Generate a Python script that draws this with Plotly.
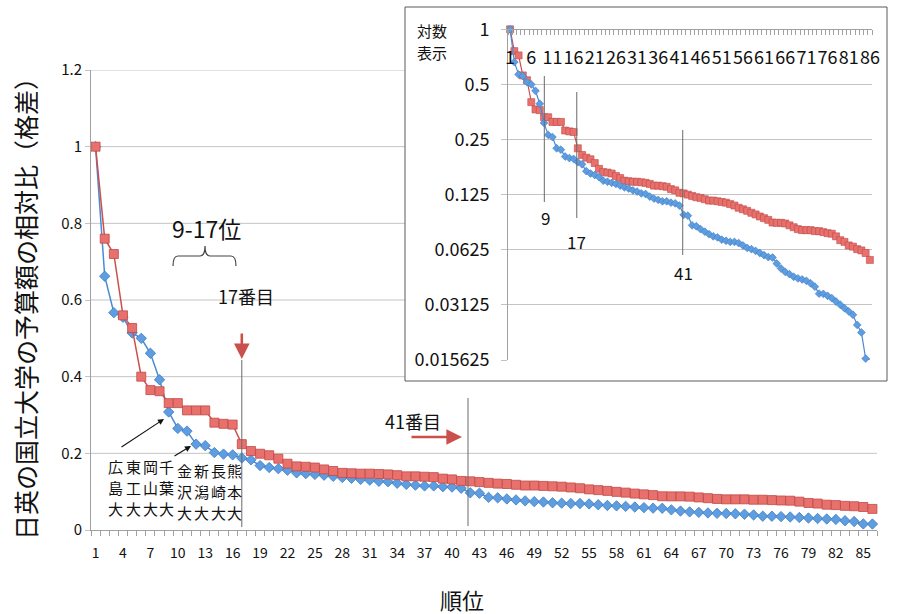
import plotly.graph_objects as go

# ---------------- data ----------------
ranks = list(range(1, 87))

red_values = [
    1.0, 0.76, 0.72, 0.56, 0.527, 0.40, 0.365, 0.362, 0.331, 0.331,
    0.312, 0.312, 0.312, 0.280, 0.277, 0.275, 0.224, 0.206, 0.199, 0.195,
    0.186, 0.173, 0.166, 0.165, 0.163, 0.158, 0.154, 0.149, 0.148, 0.147,
    0.147, 0.146, 0.145, 0.143, 0.140, 0.140, 0.139, 0.138, 0.134, 0.132,
    0.128, 0.127, 0.125, 0.123, 0.121, 0.120, 0.118, 0.116, 0.116, 0.115,
    0.114, 0.113, 0.111, 0.109, 0.106, 0.104, 0.102, 0.0995, 0.0975, 0.095,
    0.093, 0.091, 0.088, 0.0877, 0.0877, 0.087, 0.085, 0.083, 0.081, 0.080,
    0.080, 0.080, 0.079, 0.079, 0.078, 0.077, 0.0765, 0.074, 0.0705, 0.069,
    0.066, 0.065, 0.063, 0.062, 0.060, 0.055,
]

blue_values = [
    1.0, 0.662, 0.567, 0.555, 0.514, 0.500, 0.461, 0.392, 0.308, 0.265,
    0.258, 0.224, 0.220, 0.202, 0.198, 0.196, 0.188, 0.183, 0.168, 0.163,
    0.160, 0.156, 0.149, 0.147, 0.145, 0.143, 0.140, 0.137, 0.135, 0.132,
    0.130, 0.127, 0.126, 0.122, 0.119, 0.117, 0.115, 0.115, 0.113, 0.112,
    0.109, 0.097, 0.096, 0.085, 0.084, 0.081, 0.0785, 0.076, 0.074, 0.073,
    0.071, 0.070, 0.069, 0.069, 0.068, 0.066, 0.064, 0.063, 0.0616, 0.060,
    0.0584, 0.057, 0.0567, 0.0526, 0.0494, 0.0473, 0.046, 0.0445, 0.0436, 0.043,
    0.0423, 0.041, 0.0393, 0.036, 0.0359, 0.035, 0.034, 0.0326, 0.0313, 0.030,
    0.0288, 0.0276, 0.0243, 0.0221, 0.0159, 0.0156,
]

main_y_ticks = [0, 0.2, 0.4, 0.6, 0.8, 1.0, 1.2]
main_y_ticktext = ["0", "0.2", "0.4", "0.6", "0.8", "1", "1.2"]
log_ticks = [1, 0.5, 0.25, 0.125, 0.0625, 0.03125, 0.015625]
log_ticktext = ["1", "0.5", "0.25", "0.125", "0.0625", "0.03125", "0.015625"]

universities = ["広島大", "東工大", "岡山大", "千葉大", "金沢大", "新潟大", "長崎大", "熊本大"]

y_title = "日英の国立大学の予算額の相対比（格差）"
x_title = "順位"

# ---------------- layout helpers ----------------
W, H = 904, 614
ML, MR, MT, MB = 91, 27, 3, 84
PW = W - ML - MR
PH = H - MT - MB
BASE = H - MB


def fx(p):
    return (p - ML) / PW


def fy(p):
    return (BASE - p) / PH


FONT = "Noto Sans CJK JP, Noto Sans, sans-serif"
RED_LINE = "#c9504c"
RED_FILL = "#e8716d"
BLUE_LINE = "#4a8ad4"
BLUE_FILL = "#5d9de0"
GRID = "#c4c4c4"
AXIS = "#a0a0a0"

fig = go.Figure()

# main chart
fig.add_trace(go.Scatter(
    x=ranks, y=blue_values, mode="lines+markers", xaxis="x", yaxis="y",
    line=dict(color=BLUE_LINE, width=1.5),
    marker=dict(symbol="diamond", size=8, color=BLUE_FILL, line=dict(color="#3f7cc2", width=0.8)),
    showlegend=False, cliponaxis=False,
))
fig.add_trace(go.Scatter(
    x=ranks, y=red_values, mode="lines+markers", xaxis="x", yaxis="y",
    line=dict(color=RED_LINE, width=1.5),
    marker=dict(symbol="square", size=9, color=RED_FILL, line=dict(color="#c04a47", width=0.8)),
    showlegend=False, cliponaxis=False,
))

# inset (log)
fig.add_trace(go.Scatter(
    x=ranks, y=red_values, mode="lines+markers", xaxis="x2", yaxis="y2",
    line=dict(color=RED_LINE, width=1.2),
    marker=dict(symbol="square", size=7, color=RED_FILL, line=dict(color="#c04a47", width=0.6)),
    showlegend=False, cliponaxis=False,
))
fig.add_trace(go.Scatter(
    x=ranks, y=blue_values, mode="lines+markers", xaxis="x2", yaxis="y2",
    line=dict(color=BLUE_LINE, width=1.2),
    marker=dict(symbol="diamond", size=6, color=BLUE_FILL, line=dict(color="#3f7cc2", width=0.6)),
    showlegend=False, cliponaxis=False,
))

shapes = []
# main gridlines (drawn as shapes so that the inset box hides them)
for v in main_y_ticks[1:]:
    shapes.append(dict(type="line", xref="paper", yref="y", x0=0, x1=1, y0=v, y1=v,
                       line=dict(color=GRID, width=1), layer="below"))
# inset box
shapes.append(dict(type="rect", xref="paper", yref="paper",
                   x0=fx(405), x1=fx(887), y0=fy(381), y1=fy(7),
                   fillcolor="white", line=dict(color="#5a5a5a", width=1), layer="below"))
# main marker lines
shapes.append(dict(type="line", xref="x", yref="paper", x0=17, x1=17, y0=fy(527), y1=fy(360),
                   line=dict(color="#6a6a6a", width=1)))
shapes.append(dict(type="line", xref="x", yref="paper", x0=41.75, x1=41.75, y0=fy(526), y1=fy(398),
                   line=dict(color="#6a6a6a", width=1)))
# inset marker lines
shapes.append(dict(type="line", xref="x2", yref="paper", x0=9.08, x1=9.08, y0=fy(202), y1=fy(76),
                   line=dict(color="#6a6a6a", width=1)))
shapes.append(dict(type="line", xref="x2", yref="paper", x0=16.75, x1=16.75, y0=fy(218), y1=fy(92),
                   line=dict(color="#6a6a6a", width=1)))
shapes.append(dict(type="line", xref="x2", yref="paper", x0=41.78, x1=41.78, y0=fy(255), y1=fy(130),
                   line=dict(color="#6a6a6a", width=1)))

# curly brace over 9-17
bx0, bx1, bxc = 173, 236, 205
by_end, by_mid, by_peak = 266, 256, 246
pts = [
    ("M", bx0, by_end), ("Q", bx0, by_mid, bx0 + 5, by_mid), ("L", bxc - 5, by_mid),
    ("Q", bxc, by_mid, bxc, by_peak), ("Q", bxc, by_mid, bxc + 5, by_mid),
    ("L", bx1 - 5, by_mid), ("Q", bx1, by_mid, bx1, by_end),
]
path = ""
for p in pts:
    cmd = p[0]
    coords = p[1:]
    pairs = []
    for i in range(0, len(coords), 2):
        pairs.append(f"{fx(coords[i]):.5f},{fy(coords[i+1]):.5f}")
    path += cmd + " " + " ".join(pairs) + " "
shapes.append(dict(type="path", xref="paper", yref="paper", path=path.strip(),
                   line=dict(color="#444444", width=1.2)))

annotations = []


def text_ann(txt, x, y, size, color="#111111", **kw):
    d = dict(text=txt, x=fx(x), y=fy(y), xref="paper", yref="paper", showarrow=False,
             font=dict(family=FONT, size=size, color=color), xanchor="center", yanchor="middle")
    d.update(kw)
    annotations.append(d)


text_ann("9-17位", 206, 228, 23)
text_ann("17番目", 246, 296, 18)
text_ann("41番目", 413, 421, 18)
text_ann("対数", 432, 30, 15)
text_ann("表示", 432, 52, 15)
text_ann("9", 545, 217, 17)
text_ann("17", 576, 241, 17)
text_ann("41", 683, 272, 17)
text_ann(y_title, 25, 303, 25, textangle=-90)
text_ann(x_title, 462, 599, 22)

# university labels, vertical stacks
col_x = [115, 133, 150, 166, 184, 201, 218, 234]
col_top = [466, 466, 466, 466, 470, 470, 470, 470]
for name, cx, ct in zip(universities, col_x, col_top):
    for k, ch in enumerate(name):
        text_ann(ch, cx, ct + 21 * k, 15)

# arrows
annotations.append(dict(text="", x=17, y=fy(359), xref="x", yref="paper", showarrow=True,
                        ax=0, ay=-27, arrowhead=2, arrowsize=1.2, arrowwidth=2.6, arrowcolor=RED_LINE))
annotations.append(dict(text="", x=fx(462), y=fy(437), xref="paper", yref="paper", showarrow=True,
                        ax=-52, ay=0, arrowhead=2, arrowsize=1.2, arrowwidth=2.6, arrowcolor=RED_LINE))
annotations.append(dict(text="", x=fx(164), y=fy(419), xref="paper", yref="paper", showarrow=True,
                        ax=-44, ay=29, arrowhead=2, arrowsize=1.1, arrowwidth=1.1, arrowcolor="#111111"))
annotations.append(dict(text="", x=fx(191), y=fy(446), xref="paper", yref="paper", showarrow=True,
                        ax=-18, ay=11, arrowhead=2, arrowsize=1.1, arrowwidth=1.1, arrowcolor="#111111"))

tickfont = dict(family=FONT, size=15, color="#111111")
insetfont = dict(family=FONT, size=18, color="#111111")

fig.update_layout(
    width=W, height=H,
    margin=dict(l=ML, r=MR, t=MT, b=MB, autoexpand=False),
    paper_bgcolor="white", plot_bgcolor="rgba(0,0,0,0)",
    showlegend=False,
    xaxis=dict(domain=[0, 1], range=[0.5, 86.5], tickmode="linear", tick0=1, dtick=3,
               showgrid=False, zeroline=False, showline=True, linecolor=AXIS, linewidth=1,
               ticks="", tickfont=dict(family=FONT, size=14, color="#111111"), tickangle=0,
               ticklabelstandoff=10, automargin=False,
               minor=dict(tick0=0.5, dtick=1, ticks="outside", ticklen=5, tickcolor=AXIS, showgrid=False),
               anchor="y"),
    yaxis=dict(domain=[0, fy(70)], range=[0, 1.2], tickvals=main_y_ticks, ticktext=main_y_ticktext,
               showgrid=False, zeroline=False, showline=True, linecolor=AXIS, linewidth=1,
               ticks="outside", ticklen=5, tickcolor=GRID, tickfont=tickfont, anchor="x",
               automargin=False),
    xaxis2=dict(domain=[fx(508), fx(872)], range=[0.5, 86.5], tickmode="linear", tick0=1, dtick=5,
                showgrid=False, zeroline=False, showline=True, linecolor=AXIS, linewidth=1,
                ticks="", tickfont=insetfont, tickangle=0, side="bottom",
                anchor="free", position=fy(29.3), ticklabelstandoff=12, automargin=False,
                minor=dict(tick0=0.5, dtick=1, ticks="outside", ticklen=5, tickcolor=AXIS, showgrid=False)),
    yaxis2=dict(domain=[fy(360), fy(29.3)], type="log", range=[-1.80618, 0],
                tickvals=log_ticks, ticktext=log_ticktext,
                showgrid=True, gridcolor=GRID, zeroline=False, showline=True, linecolor=AXIS,
                linewidth=1, ticks="outside", ticklen=6, tickcolor=GRID, tickfont=insetfont,
                ticklabelstandoff=8, anchor="x2", automargin=False),
    shapes=shapes,
    annotations=annotations,
)

fig.write_html("out.html", config={"displayModeBar": False},
               post_script="document.body.style.margin='0px';")
